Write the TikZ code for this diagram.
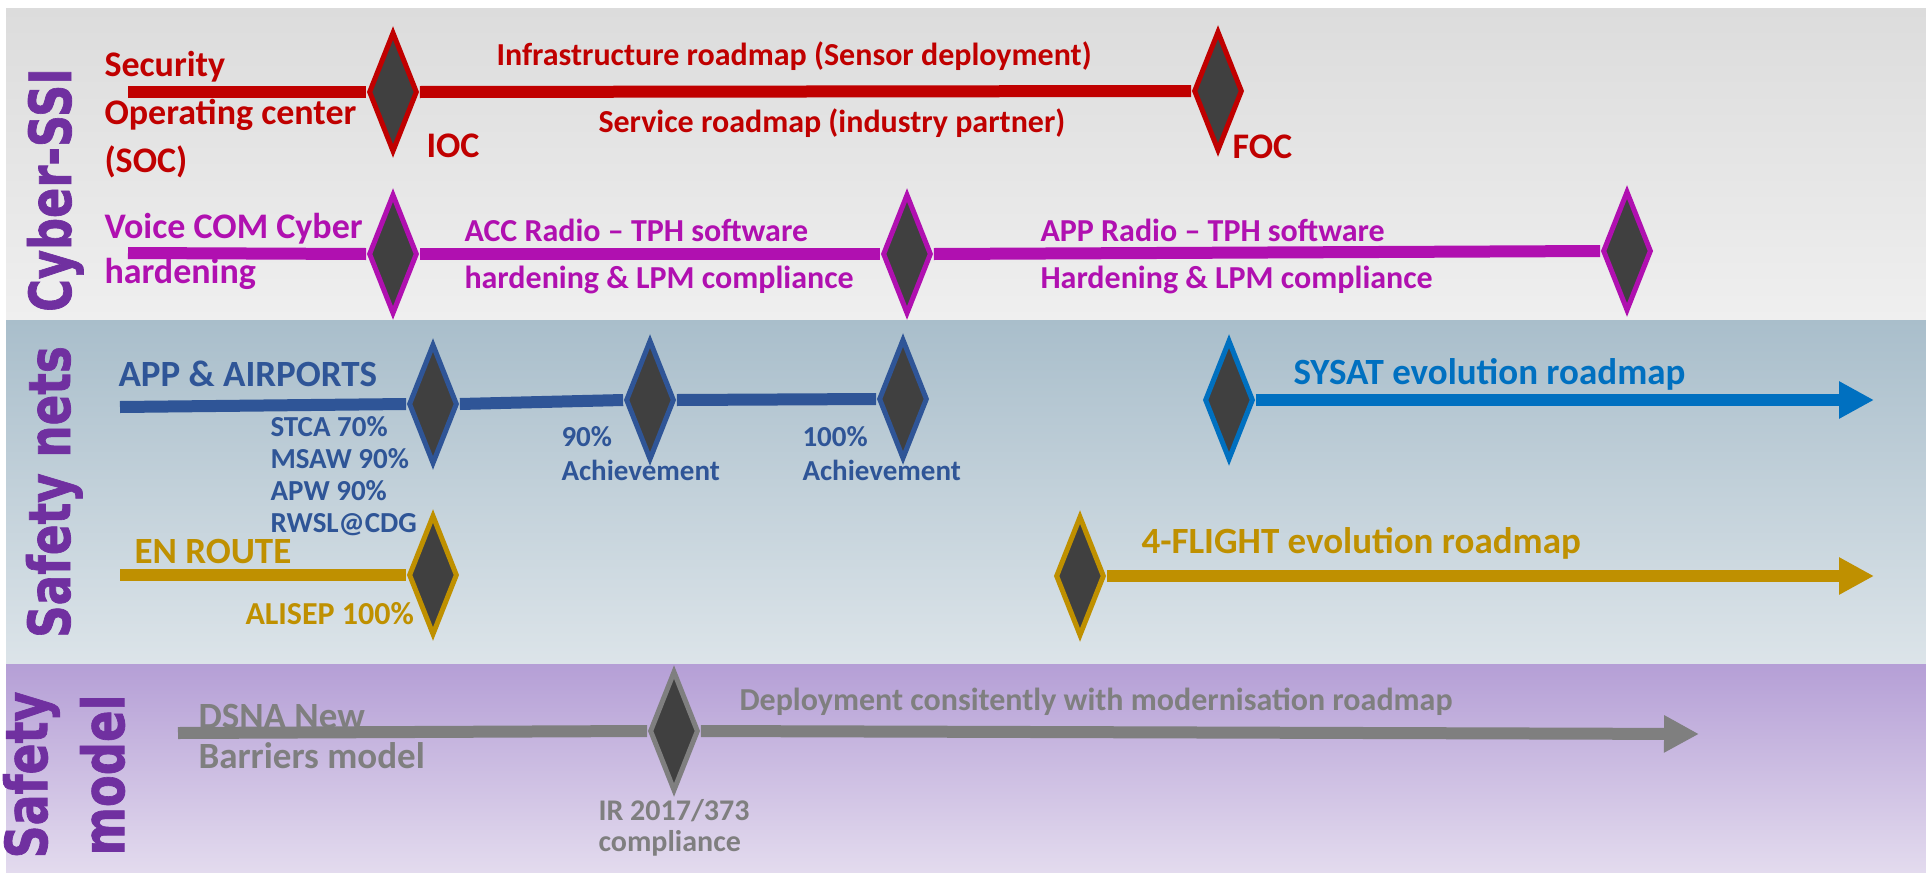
\documentclass[tikz,border=0pt]{standalone}
\usepackage{fontspec}
\setmainfont{Carlito}
\newfontfamily\bandfont{DejaVu Sans}[BoldFeatures={FakeBold=1.4}]
\usetikzlibrary{shapes,arrows.meta,positioning}

\definecolor{socred}{HTML}{C00000}
\definecolor{compurple}{HTML}{B010B0}
\definecolor{netblue}{HTML}{2F5597}
\definecolor{sysblue}{HTML}{0070C0}
\definecolor{routegold}{HTML}{BF9000}
\definecolor{modelgray}{HTML}{7F7F7F}
\definecolor{msfill}{HTML}{404040}
\definecolor{bandpurple}{HTML}{7030A0}
\definecolor{graytop}{HTML}{DCDCDC}
\definecolor{graybot}{HTML}{EFEFEF}
\definecolor{bluetop}{HTML}{A9BECB}
\definecolor{bluebot}{HTML}{DCE4E9}
\definecolor{violtop}{HTML}{B59FD6}
\definecolor{violbot}{HTML}{E3DBEE}

\tikzset{
  ms/.style={diamond, draw, fill=msfill, line width=2pt, inner sep=0pt,
    minimum width=19.5pt, minimum height=48pt},
  track/.style={line width=4.8pt},
  roadarrow/.style={track, -{Triangle[length=14pt,width=14pt]}},
  bigtxt/.style={inner sep=0pt, anchor=base west, align=left,
    font=\bfseries\fontsize{14.4pt}{18.8pt}\selectfont},
  roadtxt/.style={inner sep=0pt, anchor=base west, align=left,
    font=\bfseries\fontsize{14.8pt}{16pt}\selectfont},
  midtxt/.style={inner sep=0pt, anchor=base west, align=left,
    font=\bfseries\fontsize{12.8pt}{18.8pt}\selectfont},
  smalltxt/.style={inner sep=0pt, anchor=base west, align=left,
    font=\bfseries\fontsize{11.6pt}{12.8pt}\selectfont},
  bandlbl/.style={inner sep=0pt, rotate=90, text=bandpurple,
    font=\bandfont\bfseries\fontsize{23.2pt}{30.8pt}\selectfont}
}

\begin{document}
\begin{tikzpicture}[x=0.4pt, y=-0.4pt]
    \useasboundingbox (0,0) rectangle (1926,873);

    % Bands
    \shade[top color=graytop, bottom color=graybot] (6,8) rectangle (1926,320);
    \shade[top color=bluetop, bottom color=bluebot] (6,320) rectangle (1926,664);
    \shade[top color=violtop, bottom color=violbot] (6,664) rectangle (1926,873);

    \node[bandlbl, anchor=base] (cyber) at (71,190) {\scalebox{0.77}[1]{Cyber-SSI}};
    \node[bandlbl, anchor=base] (nets) at (70,492) {\scalebox{0.78}[1]{Safety nets}};
    \node[bandlbl, align=center] (model) at (64,775) {\scalebox{0.79}[1]{Safety}\\\scalebox{0.8}[1]{model}};

    % Cyber-SSI : SOC
    \coordinate (socstart) at (128,92);
    \node[ms, draw=socred] (ioc) at (393,92) {};
    \node[ms, draw=socred] (foc) at (1218,91) {};
    \draw[track, socred] (socstart) -- (ioc.west);
    \draw[track, socred] (ioc.east) -- (foc.west);
    \node[bigtxt, text=socred, font=\bfseries\fontsize{14.4pt}{19.2pt}\selectfont] (soc) at (104,172) {Security\\Operating center\\(SOC)};
    \node[bigtxt, text=socred] (ioctxt) at (426,157) {IOC};
    \node[bigtxt, text=socred] (foctxt) at (1232,158) {FOC};
    \node[midtxt, text=socred] (infra) at (496,65) {Infrastructure roadmap (Sensor deployment)};
    \node[midtxt, text=socred] (service) at (598,132) {Service roadmap (industry partner)};

    % Cyber-SSI : voice COM
    \coordinate (comstart) at (128,253);
    \node[ms, draw=compurple] (acc) at (393,254) {};
    \node[ms, draw=compurple] (app) at (907,254) {};
    \node[ms, draw=compurple] (appdone) at (1627,251) {};
    \draw[track, compurple] (comstart) -- (acc.west);
    \draw[track, compurple] (acc.east) -- (app.west);
    \draw[track, compurple] (app.east) -- (appdone.west);
    \node[bigtxt, text=compurple, font=\bfseries\fontsize{14.4pt}{18pt}\selectfont] (voice) at (104,283) {Voice COM Cyber\\hardening};
    \node[midtxt, text=compurple] (acctxt) at (464,288) {ACC Radio – TPH software\\hardening \& LPM compliance};
    \node[midtxt, text=compurple] (apptxt) at (1040,288) {APP Radio – TPH software\\Hardening \& LPM compliance};

    % Safety nets : APP & airports
    \coordinate (airstart) at (120,407);
    \node[ms, draw=netblue] (stca) at (433,404) {};
    \node[ms, draw=netblue] (ninety) at (650,400) {};
    \node[ms, draw=netblue] (hundred) at (903,399) {};
    \draw[track, netblue] (airstart) -- (stca.west);
    \draw[track, netblue] (stca.east) -- (ninety.west);
    \draw[track, netblue] (ninety.east) -- (hundred.west);
    \node[roadtxt, text=netblue] (airports) at (118,386) {APP \& AIRPORTS};
    \node[smalltxt, text=netblue] (stcatxt) at (270,532) {STCA 70\%\\MSAW 90\%\\APW 90\%\\RWSL@CDG};
    \node[smalltxt, text=netblue, font=\bfseries\fontsize{11.6pt}{13.6pt}\selectfont] (ninetytxt) at (561,480) {90\%\\Achievement};
    \node[smalltxt, text=netblue, font=\bfseries\fontsize{11.6pt}{13.6pt}\selectfont] (hundredtxt) at (802,480) {100\%\\Achievement};

    \node[ms, draw=sysblue] (sysat) at (1229,400) {};
    \coordinate (sysatend) at (1874,400);
    \draw[roadarrow, sysblue] (sysat.east) -- (sysatend);
    \node[roadtxt, text=sysblue] (sysattxt) at (1293,384) {SYSAT evolution roadmap};

    % Safety nets : en route
    \coordinate (routestart) at (120,575);
    \node[ms, draw=routegold] (alisep) at (433,575) {};
    \draw[track, routegold] (routestart) -- (alisep.west);
    \node[roadtxt, text=routegold] (enroute) at (134,563) {EN ROUTE};
    \node[midtxt, text=routegold] (alisetxt) at (245,624) {ALISEP 100\%};

    \node[ms, draw=routegold] (flight) at (1080,576) {};
    \coordinate (flightend) at (1874,576);
    \draw[roadarrow, routegold] (flight.east) -- (flightend);
    \node[roadtxt, text=routegold] (flighttxt) at (1141,553) {4-FLIGHT evolution roadmap};

    % Safety model
    \coordinate (dsnastart) at (178,733);
    \node[ms, draw=modelgray] (ir) at (674,731) {};
    \coordinate (deployend) at (1699,734);
    \draw[track, modelgray] (dsnastart) -- (ir.west);
    \draw[roadarrow, modelgray] (ir.east) -- (deployend);
    \node[roadtxt, text=modelgray] (dsna) at (198,768) {DSNA New\\Barriers model};
    \node[smalltxt, text=modelgray, font=\bfseries\fontsize{12pt}{12.4pt}\selectfont] (irtxt) at (598,851) {IR 2017/373\\compliance};
    \node[midtxt, text=modelgray] (deploy) at (739,710) {Deployment consitently with modernisation roadmap};
\end{tikzpicture}
\end{document}
